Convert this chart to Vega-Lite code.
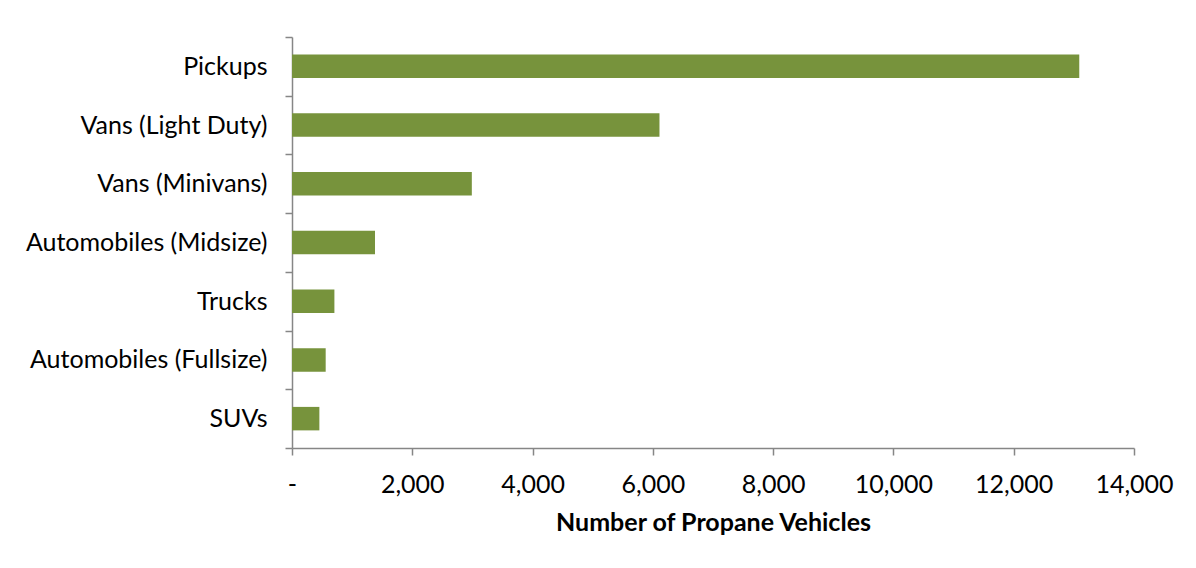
{
  "$schema": "https://vega.github.io/schema/vega-lite/v6.json",
  "width": 842,
  "height": 411,
  "autosize": {"type": "none"},
  "padding": {"left": 292, "top": 37, "right": 62, "bottom": 120},
  "background": "white",
  "data": {
    "values": [
      {"category": "Pickups", "vehicles": 13090},
      {"category": "Vans (Light Duty)", "vehicles": 6110},
      {"category": "Vans (Minivans)", "vehicles": 2990},
      {"category": "Automobiles (Midsize)", "vehicles": 1380},
      {"category": "Trucks", "vehicles": 705},
      {"category": "Automobiles (Fullsize)", "vehicles": 560},
      {"category": "SUVs", "vehicles": 455}
    ]
  },
  "mark": {"type": "bar", "color": "#77933C", "height": {"band": 0.4}},
  "encoding": {
    "y": {
      "field": "category",
      "type": "nominal",
      "sort": null,
      "scale": {"paddingInner": 0, "paddingOuter": 0},
      "axis": {
        "title": null,
        "tickBand": "extent",
        "tickSize": 7,
        "tickColor": "#868686",
        "tickWidth": 1.5,
        "domainColor": "#868686",
        "domainWidth": 1.5,
        "labelFont": "Lato",
        "labelFontSize": 25,
        "labelColor": "#000000",
        "labelPadding": 18,
        "labelLimit": 400
      }
    },
    "x": {
      "field": "vehicles",
      "type": "quantitative",
      "scale": {"domain": [0, 14000], "nice": false},
      "axis": {
        "values": [0, 2000, 4000, 6000, 8000, 10000, 12000, 14000],
        "labelExpr": "datum.value == 0 ? '-' : format(datum.value, ',')",
        "labelFlush": false,
        "labelOverlap": false,
        "grid": false,
        "tickSize": 7,
        "tickColor": "#868686",
        "tickWidth": 1.5,
        "domainColor": "#868686",
        "domainWidth": 1.5,
        "labelFont": "Lato",
        "labelFontSize": 25,
        "labelColor": "#000000",
        "labelPadding": 17,
        "title": "Number of Propane Vehicles",
        "titleFont": "Lato",
        "titleFontSize": 25,
        "titleFontWeight": "bold",
        "titleColor": "#000000",
        "titlePadding": 13
      }
    }
  },
  "config": {"view": {"stroke": null}}
}
